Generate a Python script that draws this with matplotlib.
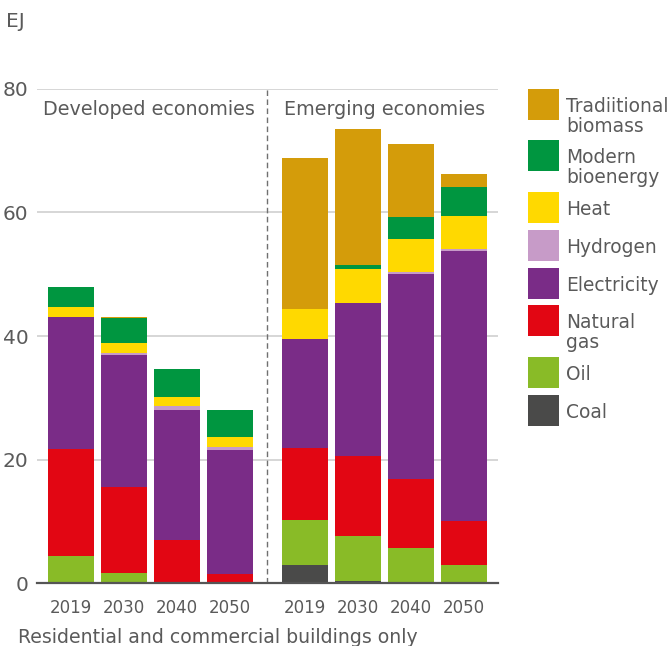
import matplotlib
matplotlib.use("Agg")
import matplotlib.pyplot as plt
from matplotlib.patches import Rectangle
import numpy as np

plt.rcParams['font.family'] = ['DejaVu Sans']

years = ["2019", "2030", "2040", "2050"]
groups = ["Developed economies", "Emerging economies"]
series_names = ["Coal", "Oil", "Natural\ngas", "Electricity", "Hydrogen", "Heat",
                "Modern\nbioenergy", "Tradiitional\nbiomass"]
colors = ["#4a4a49", "#89bb27", "#e20613", "#7a2c87", "#c79bc8", "#ffd900",
          "#009640", "#d49c0a"]

# values per series: developed 2019..2050, emerging 2019..2050
coal        = [0.0, 0.0, 0.0, 0.0,   3.0, 0.4, 0.1, 0.1]
oil         = [4.4, 1.6, 0.2, 0.1,   7.2, 7.3, 5.6, 2.9]
natural_gas = [17.3, 13.9, 6.8, 1.4, 11.7, 12.9, 11.1, 7.0]
electricity = [21.4, 21.4, 21.1, 20.0, 17.6, 24.8, 33.2, 43.8]
hydrogen    = [0.0, 0.4, 0.5, 0.6,   0.0, 0.0, 0.4, 0.3]
heat        = [1.6, 1.6, 1.5, 1.5,   4.9, 5.5, 5.3, 5.3]
modern_bio  = [3.3, 4.0, 4.5, 4.5,   0.0, 0.6, 3.6, 4.7]
trad_bio    = [0.0, 0.1, 0.0, 0.0,   24.4, 22.0, 11.8, 2.1]

series = [coal, oil, natural_gas, electricity, hydrogen, heat, modern_bio, trad_bio]

TXT = '#5a5a5a'
W, H = 670, 646
fig = plt.figure(figsize=(W / 100, H / 100), dpi=100)
ax = fig.add_axes([36.7 / W, 1 - 583.3 / H, (498 - 36.7) / W, (583.3 - 88.7) / H])

gap = 75 / 53
x = np.array([0, 1, 2, 3, 3 + gap, 4 + gap, 5 + gap, 6 + gap])
width = 46 / 53
bottom = np.zeros(len(x))
for vals, col in zip(series, colors):
    v = np.array(vals)
    ax.bar(x, v, width=width, bottom=bottom, color=col, linewidth=0, zorder=3)
    bottom += v

ax.set_ylim(0, 80)
ax.set_xlim(-0.647, x[-1] + 0.642)
ax.set_yticks([0, 20, 40, 60, 80])
ax.set_xticks(x)
ax.set_xticklabels(years * 2)
ax.tick_params(axis='both', length=0, colors=TXT)
ax.tick_params(axis='y', pad=6, labelsize=14.5)
ax.tick_params(axis='x', pad=11, labelsize=12)
ax.grid(axis='y', color='#d0d0d0', linewidth=1.2, zorder=0)
for s in ['top', 'right', 'left']:
    ax.spines[s].set_visible(False)
ax.spines['bottom'].set_color('#555555')
ax.spines['bottom'].set_linewidth(1.6)
ax.spines['bottom'].set_zorder(4)

sep = 3 + 37 / 53
ax.axvline(sep, color='#707070', linestyle=(0, (4, 2.5)), linewidth=1, zorder=2)

y_lab = (583.3 - 115) / (583.3 - 88.7) * 80
ax.text(x[0] - 0.53, y_lab, groups[0], ha='left', va='baseline', fontsize=13.8, color=TXT)
ax.text(sep + 0.32, y_lab, groups[1], ha='left', va='baseline', fontsize=13.8, color=TXT)

fig.text(6 / W, 1 - 27 / H, "EJ", ha='left', va='baseline', fontsize=14.5, color=TXT)
fig.text(18 / W, 1 - 643 / H, "Residential and commercial buildings only", ha='left',
         va='baseline', fontsize=13.6, color=TXT)

# legend (top to bottom)
tops = [89, 140, 192, 230, 268, 305, 357, 395]
order = list(range(len(series_names)))[::-1]
for t, i in zip(tops, order):
    fig.add_artist(Rectangle((528 / W, 1 - (t + 31) / H), 31 / W, 31 / H,
                             transform=fig.transFigure, color=colors[i], linewidth=0))
    for k, line in enumerate(series_names[i].split("\n")):
        fig.text(566 / W, 1 - (t + 23 + 20 * k) / H, line, ha='left', va='baseline',
                 fontsize=13.4, color=TXT)

fig.savefig("out.png", dpi=100)
